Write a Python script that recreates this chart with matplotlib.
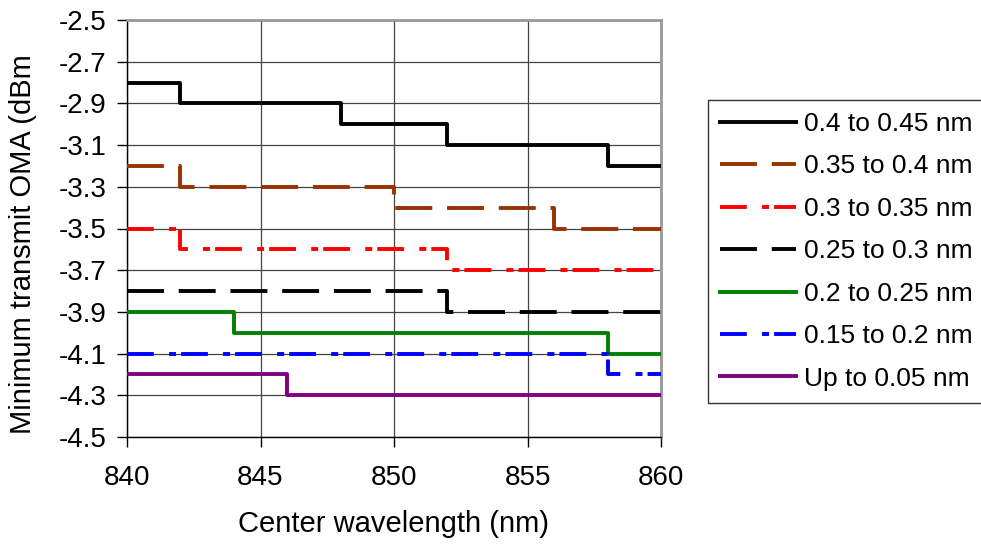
import matplotlib
matplotlib.use("Agg")
import matplotlib.pyplot as plt

plt.rcParams['font.family'] = ['Liberation Sans', 'DejaVu Sans']

# step breakpoints (nm) and levels (dBm), drawn with steps-post
x_045 = [840, 842, 848, 852, 858, 860]
y_045 = [-2.8, -2.9, -3.0, -3.1, -3.2, -3.2]
x_040 = [840, 842, 850, 856, 860]
y_040 = [-3.2, -3.3, -3.4, -3.5, -3.5]
x_035 = [840, 842, 852, 860]
y_035 = [-3.5, -3.6, -3.7, -3.7]
x_030 = [840, 852, 860]
y_030 = [-3.8, -3.9, -3.9]
x_025 = [840, 844, 858, 860]
y_025 = [-3.9, -4.0, -4.1, -4.1]
x_020 = [840, 858, 860]
y_020 = [-4.1, -4.2, -4.2]
x_005 = [840, 846, 860]
y_005 = [-4.2, -4.3, -4.3]

labels = ['0.4 to 0.45 nm', '0.35 to 0.4 nm', '0.3 to 0.35 nm', '0.25 to 0.3 nm',
          '0.2 to 0.25 nm', '0.15 to 0.2 nm', 'Up to 0.05 nm']
xs = [x_045, x_040, x_035, x_030, x_025, x_020, x_005]
ys = [y_045, y_040, y_035, y_030, y_025, y_020, y_005]
colors = ['#000000', '#993300', '#FF0000', '#000000', '#008000', '#0000FF', '#800080']

dash = (0, (9.5, 3.8))
dashdot = (0, (6.9, 3.9, 1.8, 1.3))
styles = ['-', dash, dashdot, dash, '-', dashdot, '-']

x_ticks = [840, 845, 850, 855, 860]
y_ticks = [-2.5, -2.7, -2.9, -3.1, -3.3, -3.5, -3.7, -3.9, -4.1, -4.3, -4.5]

fig = plt.figure(figsize=(9.81, 5.44), dpi=100)
ax = fig.add_axes([127 / 981, 1 - 437 / 544, 534 / 981, 417 / 544])

for x, y, c, ls, lab in zip(xs, ys, colors, styles, labels):
    ax.plot(x, y, drawstyle='steps-post', color=c, linestyle=ls, linewidth=2.8,
            label=lab, zorder=3)

ax.set_xlim(840, 860)
ax.set_ylim(-4.5, -2.5)
ax.set_xticks(x_ticks)
ax.set_yticks(y_ticks)
ax.set_yticklabels([f'{v:.1f}' for v in y_ticks])
ax.grid(True, color='#444444', linewidth=0.9)
ax.set_axisbelow(True)

ax.tick_params(axis='both', direction='out', length=7, width=1, labelsize=20, color='black')
ax.tick_params(axis='x', pad=13)
ax.tick_params(axis='y', pad=8)

for side in ['left', 'bottom']:
    ax.spines[side].set_color('black')
    ax.spines[side].set_linewidth(1)
for side in ['top', 'right']:
    ax.spines[side].set_color('#999999')
    ax.spines[side].set_linewidth(2)

ax.set_xlabel('Center wavelength (nm)', fontsize=21)
ax.set_ylabel('Minimum transmit OMA (dBm', fontsize=21)
ax.yaxis.set_label_coords(-0.168, 0.463)
ax.xaxis.set_label_coords(0.5, -0.175)

leg = ax.legend(loc='upper left', bbox_to_anchor=(708 / 981, 1 - 100 / 544),
                bbox_transform=fig.transFigure, fontsize=19, frameon=True,
                fancybox=False, borderaxespad=0, borderpad=0.45, labelspacing=0.7,
                handlelength=2.9, handletextpad=0.3)
leg.get_frame().set_edgecolor('black')
leg.get_frame().set_linewidth(1)

fig.savefig('out.png', dpi=100)
